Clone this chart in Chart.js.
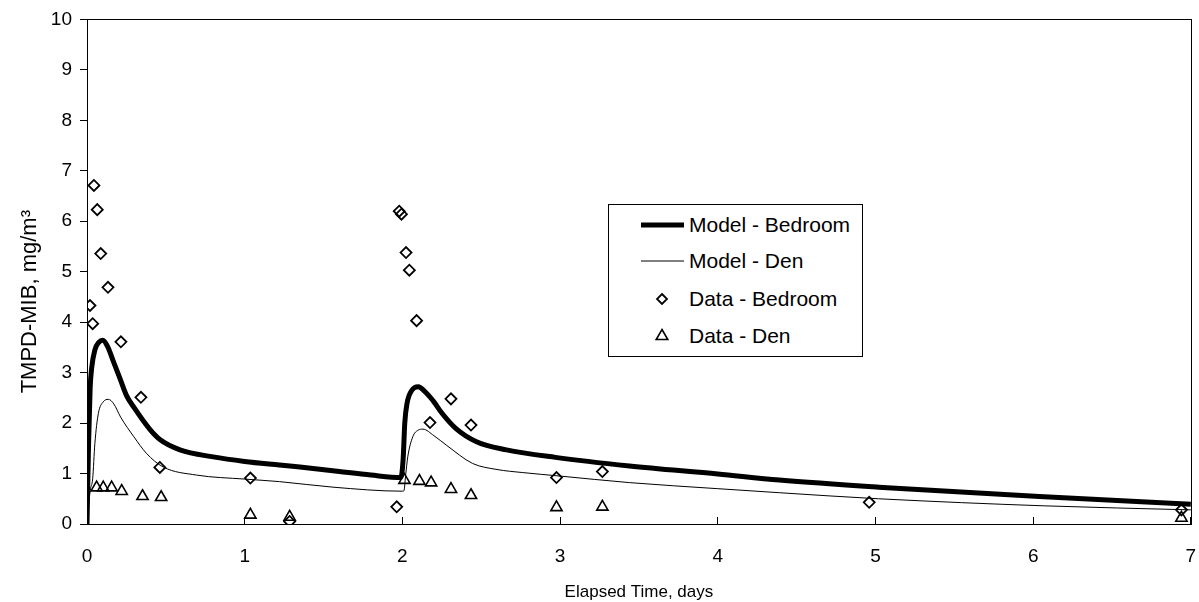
<!DOCTYPE html>
<html lang="en">
<head>
  <meta charset="UTF-8" />
  <title>TMPD-MIB - Model vs Data</title>
  <script src="https://cdn.jsdelivr.net/npm/chart.js"></script>
  <style>
    body {
      margin: 0;
      background: #fff;
      font-family: "Liberation Sans", Arial, sans-serif;
      overflow: hidden;
    }
    .chart-container {
      position: relative;
      width: 1199px;
      height: 602px;
    }
    #tmpdChart { display: block; }
    #legend {
      position: absolute;
      left: 608px;
      top: 204px;
      width: 253px;
      height: 151px;
      border: 1px solid #000;
      background: #fff;
    }
    #legend .row {
      position: absolute;
      left: 0;
      height: 30px;
      display: flex;
      align-items: center;
      font-size: 21px;
      color: #000;
      white-space: nowrap;
    }
    #legend svg { width: 80px; height: 30px; flex: none; }
  </style>
</head>
<body>
  <div class="chart-container">
    <canvas id="tmpdChart"></canvas>
    <div id="legend">
      <div class="row" style="top:5px">
        <svg viewBox="0 0 80 30"><line x1="32" y1="15" x2="75" y2="15" stroke="#000" stroke-width="5" /></svg>
        <span>Model - Bedroom</span>
      </div>
      <div class="row" style="top:41px">
        <svg viewBox="0 0 80 30"><line x1="32" y1="15" x2="75" y2="15" stroke="#000" stroke-width="1" /></svg>
        <span>Model - Den</span>
      </div>
      <div class="row" style="top:79px">
        <svg viewBox="0 0 80 30"><polygon points="53,10 58,15 53,20 48,15" fill="none" stroke="#000" stroke-width="1.8" /></svg>
        <span>Data - Bedroom</span>
      </div>
      <div class="row" style="top:116px">
        <svg viewBox="0 0 80 30"><polygon points="53,8.5 58.8,18.5 47.2,18.5" fill="none" stroke="#000" stroke-width="1.6" /></svg>
        <span>Data - Den</span>
      </div>
    </div>
  </div>

  <script>
    // model curves (days, mg/m3)
    const modelBedroomTime = [0, 0.01, 0.02, 0.03, 0.05, 0.075, 0.1, 0.13, 0.17, 0.213, 0.25, 0.3, 0.4, 0.46, 0.59, 0.8, 1.0, 1.22, 1.35, 1.6, 1.8, 1.99,
      2.005, 2.015, 2.03, 2.06, 2.1, 2.15, 2.2, 2.25, 2.34, 2.47, 2.66, 2.97, 3.44, 4.0, 4.39, 5.02, 6.07, 7.0];
    const modelBedroomConc = [0, 1.6, 2.7, 3.1, 3.45, 3.6, 3.64, 3.52, 3.2, 2.85, 2.55, 2.3, 1.87, 1.68, 1.47, 1.33, 1.24, 1.17, 1.13, 1.04, 0.97, 0.92,
      1.3, 2.0, 2.4, 2.65, 2.72, 2.6, 2.42, 2.2, 1.89, 1.63, 1.47, 1.32, 1.15, 0.99, 0.87, 0.73, 0.54, 0.39];

    const modelDenTime = [0, 0.02, 0.036, 0.05, 0.072, 0.103, 0.135, 0.17, 0.213, 0.297, 0.377, 0.483, 0.694, 1.0, 1.22, 1.56, 2.0,
      2.01, 2.02, 2.034, 2.066, 2.1, 2.13, 2.2, 2.28, 2.445, 2.6, 2.76, 3.0, 3.44, 4.0, 4.39, 5.02, 6.07, 7.0];
    const modelDenConc = [0, 0.66, 0.9, 1.6, 2.19, 2.42, 2.47, 2.38, 2.12, 1.73, 1.4, 1.13, 0.97, 0.89, 0.84, 0.73, 0.65,
      0.66, 0.95, 1.33, 1.73, 1.86, 1.88, 1.75, 1.56, 1.2, 1.08, 1.02, 0.95, 0.82, 0.7, 0.62, 0.5, 0.36, 0.28];

    // measured data
    const dataBedroomTime = [0.019, 0.036, 0.044, 0.065, 0.087, 0.133, 0.215, 0.342, 0.462, 1.036, 1.285, 1.964, 1.98, 1.994,
      2.023, 2.044, 2.09, 2.175, 2.308, 2.435, 2.977, 3.268, 4.96, 6.94];
    const dataBedroomConc = [4.33, 3.97, 6.71, 6.23, 5.36, 4.69, 3.61, 2.51, 1.12, 0.91, 0.05, 0.34, 6.2, 6.14,
      5.38, 5.03, 4.03, 2.01, 2.48, 1.96, 0.92, 1.04, 0.43, 0.28];

    const dataDenTime = [0.061, 0.103, 0.156, 0.22, 0.352, 0.47, 1.036, 1.285, 2.013, 2.108, 2.182, 2.308, 2.435, 2.977, 3.268, 6.94];
    const dataDenConc = [0.72, 0.72, 0.72, 0.65, 0.55, 0.53, 0.18, 0.14, 0.87, 0.85, 0.82, 0.69, 0.57, 0.33, 0.34, 0.12];

    const xTicks = [0, 1, 2, 3, 4, 5, 6, 7];
    const yTicks = [0, 1, 2, 3, 4, 5, 6, 7, 8, 9, 10];
    const yTitle = 'TMPD-MIB, mg/m³';

    function toPoints(xs, ys) {
      return xs.map((x, i) => ({ x: x, y: ys[i] }));
    }

    // box around the plot area + the y title (sits a bit below the axis middle)
    const frame = {
      id: 'frame',
      afterDatasetsDraw(chart) {
        const a = chart.chartArea;
        const ctx = chart.ctx;
        ctx.save();
        ctx.strokeStyle = '#000';
        ctx.lineWidth = 1;
        ctx.strokeRect(Math.round(a.left) + 0.5, Math.round(a.top) + 0.5, Math.round(a.right - a.left), Math.round(a.bottom - a.top));
        ctx.restore();
      },
      afterDraw(chart) {
        const a = chart.chartArea;
        const ctx = chart.ctx;
        ctx.save();
        ctx.translate(30, (a.top + a.bottom) / 2 + 30);
        ctx.rotate(-Math.PI / 2);
        ctx.fillStyle = '#000';
        ctx.font = '22px "Liberation Sans", Arial, sans-serif';
        ctx.textAlign = 'center';
        ctx.textBaseline = 'middle';
        ctx.fillText(yTitle, 0, 0);
        ctx.restore();
      }
    };

    const tickFont = { family: '"Liberation Sans", Arial, sans-serif', size: 19 };
    const titleFont = { family: '"Liberation Sans", Arial, sans-serif', size: 17, lineHeight: 1 };

    const ctx = document.getElementById('tmpdChart').getContext('2d');
    const tmpdChart = new Chart(ctx, {
      type: 'scatter',
      data: {
        datasets: [
          {
            label: 'Data - Bedroom',
            data: toPoints(dataBedroomTime, dataBedroomConc),
            pointStyle: 'rectRot',
            pointRadius: 5.5,
            pointBorderWidth: 1.8,
            borderColor: '#000',
            backgroundColor: 'rgba(0,0,0,0)'
          },
          {
            label: 'Data - Den',
            data: toPoints(dataDenTime, dataDenConc),
            pointStyle: 'triangle',
            pointRadius: 6.5,
            pointBorderWidth: 1.6,
            borderColor: '#000',
            backgroundColor: 'rgba(0,0,0,0)'
          },
          {
            label: 'Model - Bedroom',
            data: toPoints(modelBedroomTime, modelBedroomConc),
            showLine: true,
            pointRadius: 0,
            borderColor: '#000',
            borderWidth: 5,
            cubicInterpolationMode: 'monotone'
          },
          {
            label: 'Model - Den',
            data: toPoints(modelDenTime, modelDenConc),
            showLine: true,
            pointRadius: 0,
            borderColor: '#000',
            borderWidth: 1,
            cubicInterpolationMode: 'monotone'
          }
        ]
      },
      options: {
        responsive: true,
        maintainAspectRatio: false,
        animation: false,
        layout: { padding: { top: 19, right: 3, left: 0, bottom: 0 } },
        plugins: {
          legend: { display: false },
          tooltip: { enabled: false }
        },
        scales: {
          x: {
            type: 'linear',
            min: 0,
            max: 7,
            afterFit: scale => {
              scale.height = 78;
              scale.paddingLeft = 0;
              scale.paddingRight = 0;
            },
            afterBuildTicks: scale => { scale.ticks = xTicks.map(v => ({ value: v })); },
            ticks: { color: '#000', font: tickFont, padding: 28 },
            grid: { drawOnChartArea: false, tickLength: -7, color: '#000' },
            border: { color: '#000' },
            title: { display: true, text: 'Elapsed Time, days', color: '#000', font: titleFont, padding: { top: 0, bottom: 1 } }
          },
          y: {
            min: 0,
            max: 10,
            afterFit: scale => { scale.width = 87; },
            afterBuildTicks: scale => { scale.ticks = yTicks.map(v => ({ value: v })); },
            ticks: { color: '#000', font: tickFont, padding: 8 },
            grid: { drawOnChartArea: false, tickLength: 7, color: '#000' },
            border: { color: '#000' }
          }
        }
      },
      plugins: [frame]
    });
  </script>
</body>
</html>
